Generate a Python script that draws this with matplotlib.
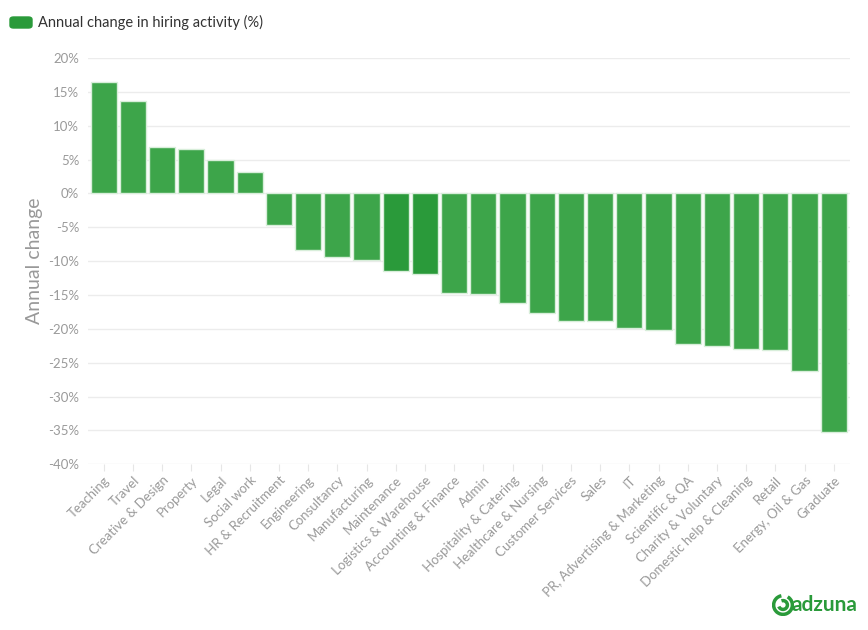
import matplotlib
matplotlib.use("Agg")
import matplotlib.pyplot as plt
from matplotlib.patches import FancyBboxPatch, Arc
from matplotlib.ticker import FuncFormatter

plt.rcParams["font.family"] = ["Lato", "DejaVu Sans"]

categories = [
    "Teaching", "Travel", "Creative & Design", "Property", "Legal", "Social work",
    "HR & Recruitment", "Engineering", "Consultancy", "Manufacturing", "Maintenance",
    "Logistics & Warehouse", "Accounting & Finance", "Admin", "Hospitality & Catering",
    "Healthcare & Nursing", "Customer Services", "Sales", "IT",
    "PR, Advertising & Marketing", "Scientific & QA", "Charity & Voluntary",
    "Domestic help & Cleaning", "Retail", "Energy, Oil & Gas", "Graduate",
]
annual_change = [
    16.5, 13.7, 6.8, 6.5, 5.0, 3.1,
    -4.7, -8.4, -9.4, -9.9, -11.5,
    -11.9, -14.7, -14.9, -16.2,
    -17.7, -18.8, -18.9, -19.8,
    -20.1, -22.2, -22.6,
    -23.0, -23.1, -26.2, -35.2,
]
highlighted = ["Maintenance", "Logistics & Warehouse"]

GREEN = "#3da54a"
DARK = "#2a9a3a"
GRID = "#ececec"
TICK = "#9a9a9a"

fig = plt.figure(figsize=(8.68, 6.3), dpi=100)
ax = fig.add_axes([0.101, 0.263, 0.878, 0.645])

colors = [DARK if c in highlighted else GREEN for c in categories]
x = range(len(categories))
ax.bar(x, annual_change, width=0.9, color=colors, edgecolor="#d8eeda",
       linewidth=1.0, zorder=3)

ax.set_ylim(-40, 20)
ax.set_xlim(-0.55, len(categories) - 0.45)
ax.set_yticks(range(-40, 21, 5))
ax.yaxis.set_major_formatter(FuncFormatter(lambda v, p: f"{int(v)}%"))
ax.grid(axis="y", color=GRID, linewidth=1, zorder=0)
for s in ax.spines.values():
    s.set_visible(False)
ax.tick_params(axis="y", length=0, labelsize=9.5, labelcolor=TICK, pad=6)
ax.tick_params(axis="x", length=5, color="#e6e6e6", labelsize=9.5,
               labelcolor=TICK, pad=2)
ax.set_xticks(list(x))
ax.set_xticklabels(categories, rotation=45, ha="right", rotation_mode="anchor")
ax.set_ylabel("Annual change", fontsize=14, color="#999999", labelpad=4)

# legend
fig.patches.append(FancyBboxPatch((10 / 868, 1 - 28 / 630), 22 / 868, 11 / 630,
                                  boxstyle="round,pad=0.0,rounding_size=0.004",
                                  transform=fig.transFigure, color=DARK))
fig.text(38 / 868, 1 - 22 / 630, "Annual change in hiring activity (%)",
         fontsize=10.5, color="#333333", va="center", ha="left")

# logo
logo = fig.add_axes([772 / 868, 1 - 616 / 630, 22 / 868, 22 / 630])
logo.set_xlim(-1, 1)
logo.set_ylim(-1, 1)
logo.set_aspect("equal")
logo.axis("off")
logo.add_patch(Arc((0, 0), 1.7, 1.7, theta1=100, theta2=420, color="#2a9a3a", lw=2.5))
logo.add_patch(Arc((0, 0), 0.8, 0.8, theta1=200, theta2=470, color="#2a9a3a", lw=2.5))
fig.text(792 / 868, 1 - 605 / 630, "adzuna", fontsize=15, fontweight="bold",
         color="#2a9a3a", va="center", ha="left")

fig.savefig("out.png", dpi=100)
